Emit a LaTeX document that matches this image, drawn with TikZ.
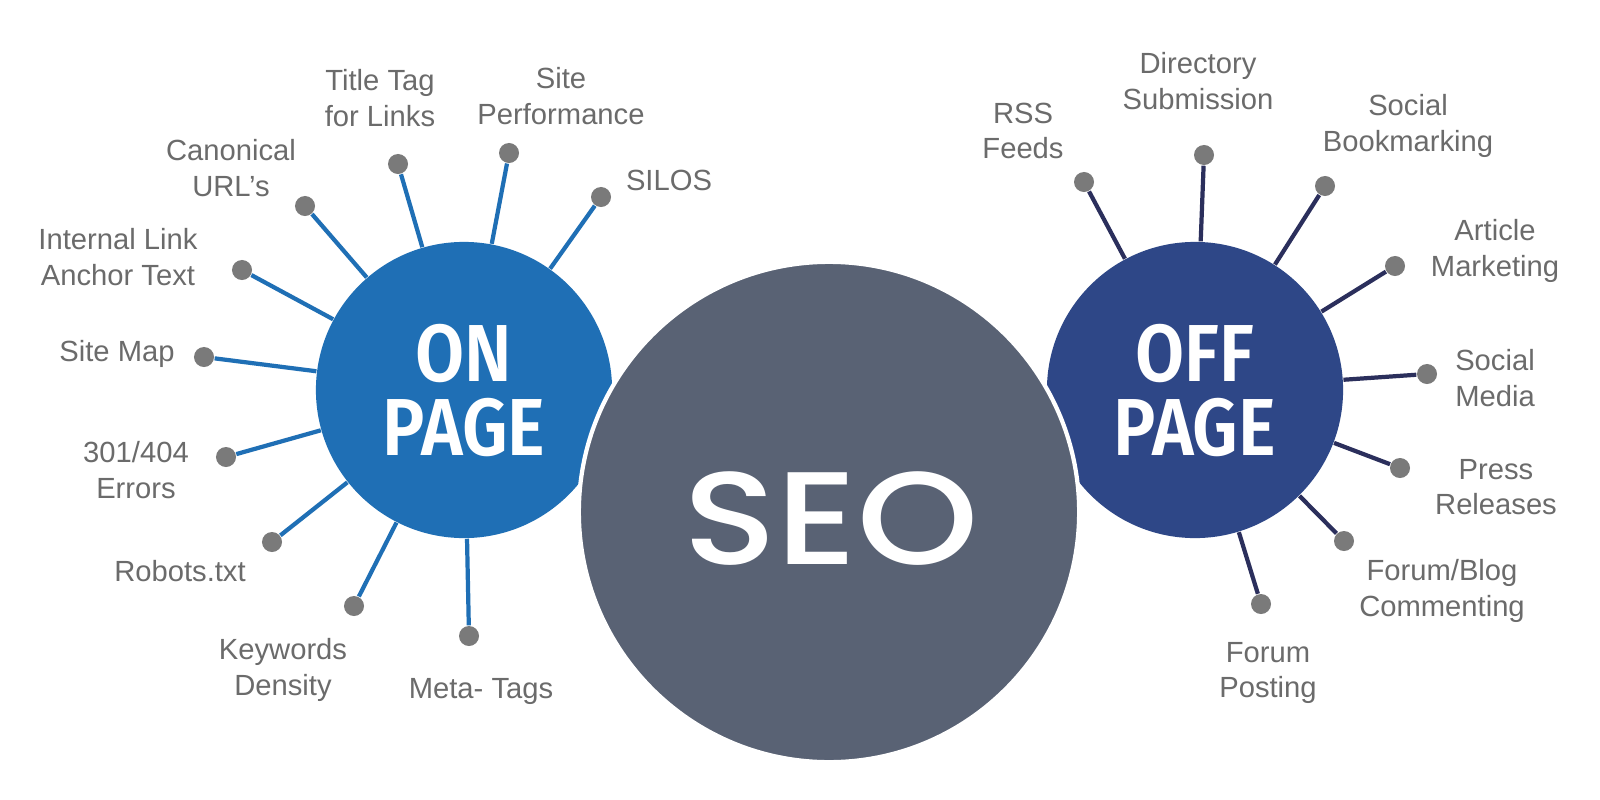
\documentclass[tikz,border=0pt]{standalone}
\usepackage{fontspec}
\usepackage{graphicx}
\usetikzlibrary{positioning}

\newfontfamily\lblfont{Liberation Sans}
\newfontfamily\capfont{Fira Sans SemiBold}
\newfontfamily\seofont{Poppins Medium}

\definecolor{onblue}{HTML}{1F6FB5}
\definecolor{offnavy}{HTML}{2E4787}
\definecolor{offline}{HTML}{2B2F5C}
\definecolor{seogray}{HTML}{596274}
\definecolor{dotgray}{HTML}{7A7A7A}
\definecolor{lblgray}{HTML}{6B6B6B}

\newcommand{\hubtext}[2]{\scalebox{0.88}[1]{\capfont\fontsize{23pt}{16.5pt}\selectfont
  \raisebox{0pt}[\height][0pt]{\begin{tabular}[b]{@{}c@{}}#1\\#2\end{tabular}}}}

\tikzset{
  dot/.style={circle,fill=dotgray,minimum size=0.2cm,inner sep=0pt},
  lbl/.style={font=\lblfont\fontsize{8.3pt}{10pt}\selectfont,text=lblgray,align=center,inner sep=0pt},
  onspoke/.style={onblue,line width=1.2pt},
  offspoke/.style={offline,line width=1.2pt},
  hub/.style={circle,minimum size=2.96cm,inner sep=0pt,text=white}
}

\begin{document}
\begin{tikzpicture}[x=0.01cm,y=-0.01cm]
    \useasboundingbox[fill=white] (0,0) rectangle (1600,800);

    % on page
    \node[hub,fill=onblue] (onpage) at (464,390) {\hubtext{ON}{PAGE}};
    \node[dot] (ttag) at (398,164) {};
    \node[dot] (sperf) at (509,153) {};
    \node[dot] (silos) at (601,197) {};
    \node[dot] (canon) at (305,206) {};
    \node[dot] (ilink) at (242,270) {};
    \node[dot] (smap) at (204,357) {};
    \node[dot] (errs) at (226,457) {};
    \node[dot] (robots) at (272,542) {};
    \node[dot] (kwd) at (354,606) {};
    \node[dot] (meta) at (469,636) {};
    \foreach \d in {ttag,sperf,silos,canon,ilink,smap,errs,robots,kwd,meta}
        \draw[onspoke] (\d) -- (onpage);

    \node[lbl] (ttagl) at (380,98) {Title Tag\\for Links};
    \node[lbl] (sperfl) at (561,96) {Site\\Performance};
    \node[lbl] (silosl) at (669,180) {SILOS};
    \node[lbl] (canonl) at (231,168) {Canonical\\URL’s};
    \node[lbl] (ilinkl) at (118,257) {Internal Link\\Anchor Text};
    \node[lbl] (smapl) at (117,354) {Site Map};
    \node[lbl] (errsl) at (136,470) {301/404\\Errors};
    \node[lbl] (robotsl) at (180,571) {Robots.txt};
    \node[lbl] (kwdl) at (283,670) {Keywords\\Density};
    \node[lbl] (metal) at (481,691) {Meta- Tags};

    % off page
    \node[hub,fill=offnavy] (offpage) at (1195,390) {\hubtext{OFF}{PAGE}};
    \node[dot] (rss) at (1084,182) {};
    \node[dot] (dirs) at (1204,155) {};
    \node[dot] (sbook) at (1325,186) {};
    \node[dot] (artm) at (1395,266) {};
    \node[dot] (smed) at (1427,374) {};
    \node[dot] (press) at (1400,468) {};
    \node[dot] (blogc) at (1344,541) {};
    \node[dot] (fpost) at (1261,604) {};
    \foreach \d in {rss,dirs,sbook,artm,smed,press,blogc,fpost}
        \draw[offspoke] (\d) -- (offpage);

    \node[lbl] (rssl) at (1023,131) {RSS\\Feeds};
    \node[lbl] (dirsl) at (1198,81) {Directory\\Submission};
    \node[lbl] (sbookl) at (1408,126) {Social\\Bookmarking};
    \node[lbl] (artml) at (1495,251) {Article\\Marketing};
    \node[lbl] (smedl) at (1495,378) {Social\\Media};
    \node[lbl] (pressl) at (1496,487) {Press\\Releases};
    \node[lbl] (blogcl) at (1442,591) {Forum/Blog\\Commenting};
    \node[lbl] (fpostl) at (1268,673) {Forum\\Posting};

    % seo on top
    \node[circle,fill=seogray,draw=white,line width=1.2pt,minimum size=5cm,inner sep=0pt] (seo) at (829,512) {};
    \node[text=white,font=\seofont\fontsize{37.5pt}{40pt}\selectfont,inner sep=0pt] (seol) at (831,519) {\scalebox{1.17}[1]{SEO}};
\end{tikzpicture}
\end{document}
